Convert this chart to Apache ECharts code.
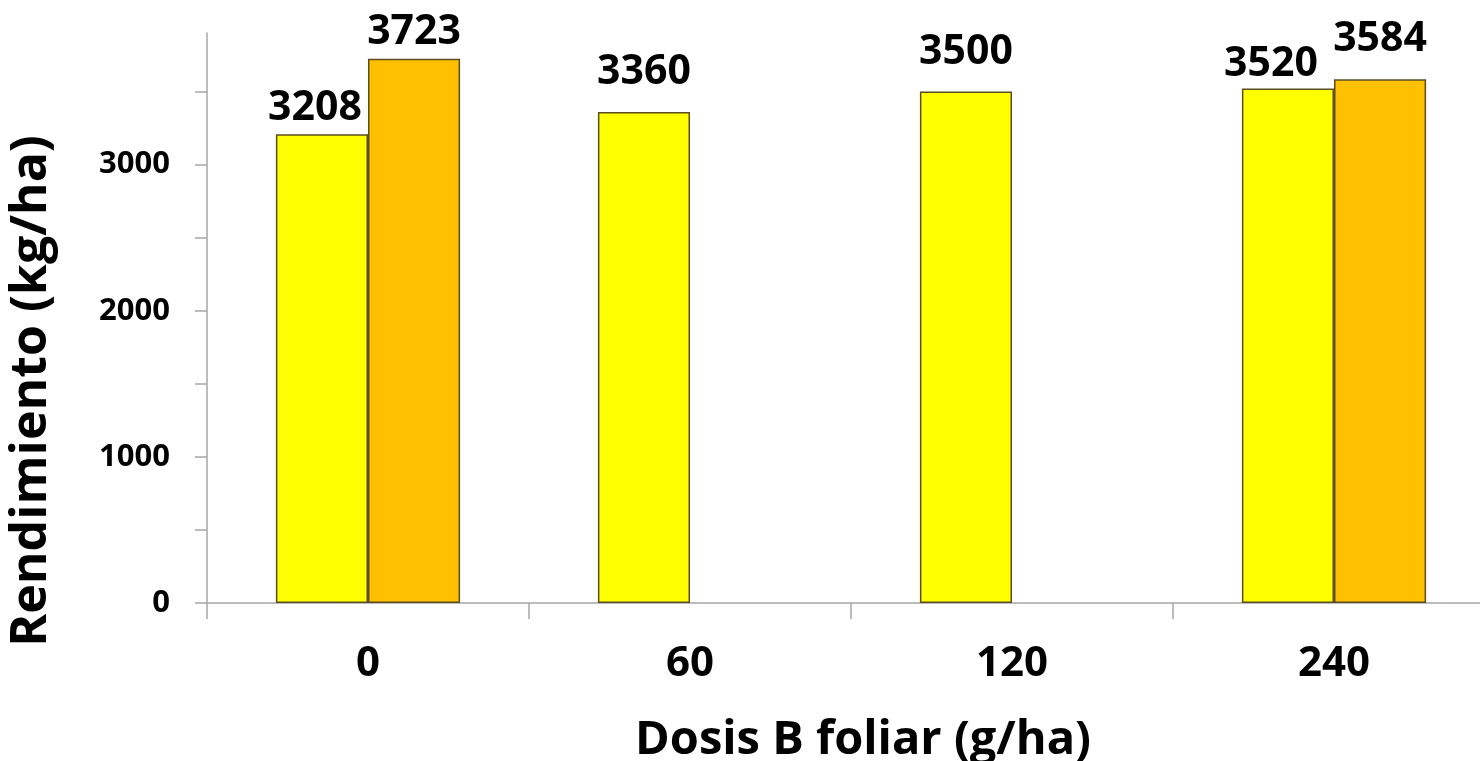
<!DOCTYPE html>
<html>
<head>
<meta charset="utf-8">
<script src="https://cdn.jsdelivr.net/npm/echarts@6/dist/echarts.min.js"></script>
<style>
  html, body { margin: 0; padding: 0; background: #ffffff; }
  #chart { width: 1480px; height: 761px; }
</style>
</head>
<body>
<div id="chart"></div>
<script>
// Foliar boron dose (g/ha) and grain yield (kg/ha)
const categories = ['0', '60', '120', '240'];
const yieldA = [3208, 3360, 3500, 3520];
const yieldB = [3723, null, null, 3584];
const yTickValues = [0, 500, 1000, 1500, 2000, 2500, 3000, 3500];
const yLabelValues = [0, 1000, 2000, 3000];

const FONT = '"Open Sans", "DejaVu Sans", sans-serif';

// per-bar label nudges [dx, dy] for labels sitting closer to their bar
const nudgeA = { 0: [-7, 14], 3: [-17, 15] };
const nudgeB = { 0: [0, 13] };

function withLabels(values, nudge) {
  return values.map((v, i) => {
    if (v === null) return null;
    const item = { value: v };
    if (nudge[i]) item.label = { offset: nudge[i] };
    return item;
  });
}

const barLabel = {
  show: true,
  position: 'top',
  distance: 19,
  color: '#000',
  fontFamily: FONT,
  fontWeight: 'bold',
  fontSize: 41
};

const chart = echarts.init(document.getElementById('chart'), null, { renderer: 'canvas' });

// the plot area runs slightly past the right edge of the canvas
chart.setOption({
  animation: false,
  backgroundColor: '#ffffff',
  grid: {
    left: 207, width: 1288, top: 33, bottom: 158,
    containLabel: false, outerBoundsMode: 'none'
  },
  xAxis: {
    type: 'category',
    data: categories,
    axisLine: { show: true, lineStyle: { color: '#a6a6a6', width: 1.5 } },
    axisTick: { show: true, length: 16, lineStyle: { color: '#a6a6a6', width: 1.5 } },
    axisLabel: {
      color: '#000', fontFamily: FONT, fontWeight: 'bold', fontSize: 42, margin: 40
    },
    splitLine: { show: false }
  },
  yAxis: {
    type: 'value',
    min: 0,
    max: 3900,
    interval: 500,
    axisLine: { show: true, lineStyle: { color: '#a6a6a6', width: 1.5 } },
    axisTick: {
      show: true, length: 12, customValues: yTickValues,
      lineStyle: { color: '#a6a6a6', width: 1.5 }
    },
    axisLabel: {
      color: '#000', fontFamily: FONT, fontWeight: 'bold', fontSize: 31, margin: 37,
      customValues: yLabelValues,
      formatter: (v) => String(v)
    },
    splitLine: { show: false }
  },
  series: [
    {
      type: 'bar',
      data: withLabels(yieldA, nudgeA),
      barWidth: '28.6%',
      barGap: '0%',
      itemStyle: { color: '#ffff00', borderColor: '#5c4c24', borderWidth: 1.5 },
      label: barLabel
    },
    {
      type: 'bar',
      data: withLabels(yieldB, nudgeB),
      barWidth: '28.6%',
      barGap: '0%',
      itemStyle: { color: '#ffc000', borderColor: '#5c4c24', borderWidth: 1.5 },
      label: barLabel
    }
  ],
  graphic: [
    {
      type: 'text',
      x: 32, y: 391,
      rotation: Math.PI / 2,
      style: {
        text: 'Rendimiento (kg/ha)',
        fill: '#000',
        font: 'bold 50px ' + FONT,
        align: 'center',
        verticalAlign: 'middle'
      }
    },
    {
      type: 'text',
      x: 863, y: 741,
      style: {
        text: 'Dosis B foliar (g/ha)',
        fill: '#000',
        font: 'bold 47px ' + FONT,
        align: 'center',
        verticalAlign: 'middle'
      }
    }
  ]
});
</script>
</body>
</html>
